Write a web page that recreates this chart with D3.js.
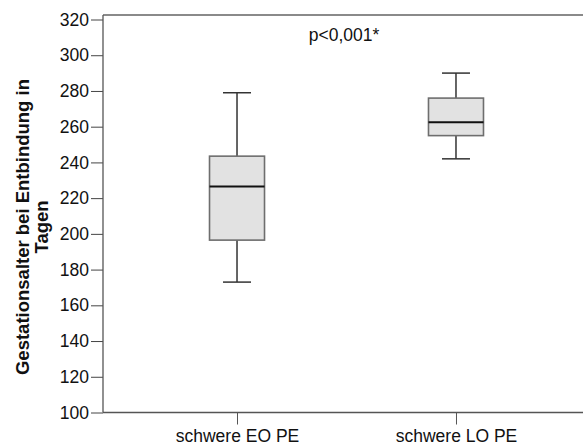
<!DOCTYPE html>
<html><head><meta charset="utf-8">
<script src="https://cdn.jsdelivr.net/npm/d3@7"></script>
<style>body{margin:0;background:#fff}svg{display:block}text{font-family:"Liberation Sans",Arial,sans-serif}</style>
</head><body><svg id="c" width="583" height="445"></svg>
<script>
const categories = ["schwere EO PE", "schwere LO PE"];
const whiskerLow = [173, 242];
const q1 = [196.5, 255];
const median = [226.5, 262.5];
const q3 = [243.5, 276];
const whiskerHigh = [279, 290];
const yTicks = [100,120,140,160,180,200,220,240,260,280,300,320];
const yLabelLines = ["Gestationsalter bei Entbindung in", "Tagen"];
const annotation = "p<0,001*";

(function () {
const svg = d3.select("#c");
const mLeft = 103, mRight = 590, mTop = 15, mBottom = 412.5;
const y = d3.scaleLinear().domain([100, 320]).range([mBottom, 19.5]);
const x = d3.scalePoint().domain(categories).range([mLeft, mRight]).padding(0.612);

svg.append("line").attr("x1", mLeft).attr("x2", 583).attr("y1", mTop).attr("y2", mTop)
  .attr("stroke", "#8a8a8a").attr("stroke-width", 2);

const ya = svg.append("g").attr("transform", `translate(${mLeft},0)`)
  .call(d3.axisLeft(y).tickValues(yTicks).tickSize(12).tickPadding(2).tickFormat(d3.format("d")));
ya.select(".domain").remove();
ya.selectAll(".tick line").attr("stroke", "#444");
ya.selectAll("text").attr("font-size", 17.5).attr("fill", "#111").attr("font-family", "Liberation Sans, Arial, sans-serif");
svg.append("line").attr("x1", mLeft).attr("x2", mLeft).attr("y1", mTop).attr("y2", mBottom)
  .attr("stroke", "#555").attr("stroke-width", 1.3);

const xa = svg.append("g").attr("transform", `translate(0,${mBottom})`)
  .call(d3.axisBottom(x).tickSize(12).tickPadding(5));
xa.select(".domain").remove();
xa.selectAll(".tick line").attr("stroke", "#555");
xa.selectAll("text").attr("font-size", 17.5).attr("fill", "#111").attr("font-family", "Liberation Sans, Arial, sans-serif");
svg.append("line").attr("x1", mLeft).attr("x2", 583).attr("y1", mBottom).attr("y2", mBottom)
  .attr("stroke", "#555").attr("stroke-width", 1.3);

const boxW = 55, capW = 28;
const data = categories.map((c, i) => ({c, lo: whiskerLow[i], q1: q1[i], med: median[i], q3: q3[i], hi: whiskerHigh[i]}));
const g = svg.append("g").selectAll("g").data(data).join("g");
g.append("line").attr("x1", d => x(d.c)).attr("x2", d => x(d.c))
  .attr("y1", d => y(d.hi)).attr("y2", d => y(d.q3)).attr("stroke", "#333").attr("stroke-width", 1.5);
g.append("line").attr("x1", d => x(d.c)).attr("x2", d => x(d.c))
  .attr("y1", d => y(d.q1)).attr("y2", d => y(d.lo)).attr("stroke", "#333").attr("stroke-width", 1.5);
g.append("line").attr("x1", d => x(d.c) - capW/2).attr("x2", d => x(d.c) + capW/2)
  .attr("y1", d => y(d.hi)).attr("y2", d => y(d.hi)).attr("stroke", "#333").attr("stroke-width", 1.5);
g.append("line").attr("x1", d => x(d.c) - capW/2).attr("x2", d => x(d.c) + capW/2)
  .attr("y1", d => y(d.lo)).attr("y2", d => y(d.lo)).attr("stroke", "#333").attr("stroke-width", 1.5);
g.append("rect").attr("x", d => x(d.c) - boxW/2).attr("width", boxW)
  .attr("y", d => y(d.q3)).attr("height", d => y(d.q1) - y(d.q3))
  .attr("fill", "#e2e2e2").attr("stroke", "#6e6e6e").attr("stroke-width", 1.6);
g.append("line").attr("x1", d => x(d.c) - boxW/2).attr("x2", d => x(d.c) + boxW/2)
  .attr("y1", d => y(d.med)).attr("y2", d => y(d.med)).attr("stroke", "#111").attr("stroke-width", 2);

svg.append("text").attr("x", 344).attr("y", 41).attr("text-anchor", "middle")
  .attr("font-size", 17.5).attr("fill", "#111").text(annotation);

const yl = svg.append("text").attr("transform", "translate(0,227) rotate(-90)")
  .attr("text-anchor", "middle").attr("font-size", 18.5).attr("font-weight", "bold").attr("fill", "#111");
yl.selectAll("tspan").data(yLabelLines).join("tspan")
  .attr("x", 0).attr("y", (d, i) => 29 + i * 19).text(d => d);
})();
</script></body></html>
